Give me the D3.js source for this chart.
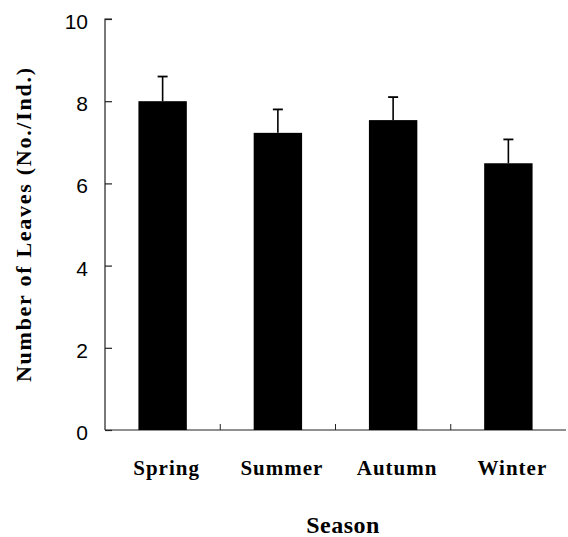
<!DOCTYPE html>
<html>
<head>
<meta charset="utf-8">
<script src="https://cdn.jsdelivr.net/npm/d3@7"></script>
<style>
  body { margin: 0; background: #fff; }
  svg { display: block; }
</style>
</head>
<body>
<svg width="568" height="537"></svg>
<script>
// seasons and mean leaf counts, with the top of each error bar
var seasons = ["Spring", "Summer", "Autumn", "Winter"];
var means = [8.0, 7.23, 7.54, 6.49];
var upper = [8.6, 7.8, 8.1, 7.07];
var yTicks = [0, 2, 4, 6, 8, 10];

var svg = d3.select("svg");

var x = d3.scaleBand()
  .domain(seasons)
  .range([105, 566])
  .paddingInner(0.58)
  .paddingOuter(0.29);

var y = d3.scaleLinear()
  .domain([0, 10])
  .range([430, 19]);

// y axis, ticks pointing inward
var yAxis = svg.append("g")
  .attr("transform", "translate(105,0)")
  .call(d3.axisRight(y).tickValues(yTicks).tickSize(7).tickFormat(""));
yAxis.select(".domain").attr("d", "M7,19H0V430");
yAxis.selectAll("line, path").attr("stroke", "#222").attr("stroke-width", 1.2);

svg.selectAll("text.ytick")
  .data(yTicks)
  .enter()
  .append("text")
  .attr("class", "ytick")
  .attr("x", 88)
  .attr("y", (d) => y(d) + 10)
  .attr("text-anchor", "end")
  .style("font-family", "Liberation Sans, Arial, sans-serif")
  .style("font-size", "21px")
  .text((d) => d);

// x axis line with small separators between seasons
svg.append("line")
  .attr("x1", 105).attr("x2", 566)
  .attr("y1", y(0)).attr("y2", y(0))
  .attr("stroke", "#222").attr("stroke-width", 1.2);

var step = x.step();
svg.selectAll("line.sep")
  .data(seasons.slice(1))
  .enter()
  .append("line")
  .attr("class", "sep")
  .attr("x1", (d) => x(d) - (step - x.bandwidth()) / 2)
  .attr("x2", (d) => x(d) - (step - x.bandwidth()) / 2)
  .attr("y1", y(0)).attr("y2", y(0) - 6)
  .attr("stroke", "#222").attr("stroke-width", 1);

// error bars (drawn first so the bar covers the stem)
var cap = 5;
seasons.forEach(function (s, i) {
  var cx = x(s) + x.bandwidth() / 2;
  svg.append("line")
    .attr("x1", cx).attr("x2", cx)
    .attr("y1", y(means[i])).attr("y2", y(upper[i]))
    .attr("stroke", "#000").attr("stroke-width", 1.6);
  svg.append("line")
    .attr("x1", cx - cap).attr("x2", cx + cap)
    .attr("y1", y(upper[i])).attr("y2", y(upper[i]))
    .attr("stroke", "#000").attr("stroke-width", 1.8);
});

svg.selectAll("rect.bar")
  .data(means)
  .enter()
  .append("rect")
  .attr("class", "bar")
  .attr("x", (d, i) => x(seasons[i]))
  .attr("y", (d) => y(d))
  .attr("width", x.bandwidth())
  .attr("height", (d) => y(0) - y(d))
  .attr("fill", "#000");

// category labels
svg.selectAll("text.xlab")
  .data(seasons)
  .enter()
  .append("text")
  .attr("class", "xlab")
  .attr("x", (d) => x(d) + x.bandwidth() / 2 + 4)
  .attr("y", 475)
  .attr("text-anchor", "middle")
  .style("font-family", "Liberation Serif, Times New Roman, serif")
  .style("font-weight", "bold")
  .style("font-size", "21px")
  .style("letter-spacing", "1px")
  .text((d) => d);

svg.append("text")
  .attr("x", 343)
  .attr("y", 533)
  .attr("text-anchor", "middle")
  .style("font-family", "Liberation Serif, Times New Roman, serif")
  .style("font-weight", "bold")
  .style("font-size", "24px")
  .style("letter-spacing", "0.5px")
  .text("Season");

svg.append("text")
  .attr("transform", "translate(31,225) rotate(-90)")
  .attr("text-anchor", "middle")
  .attr("textLength", 314)
  .attr("lengthAdjust", "spacing")
  .style("font-family", "Liberation Serif, Times New Roman, serif")
  .style("font-weight", "bold")
  .style("font-size", "22px")
  .text("Number of Leaves (No./Ind.)");
</script>
</body>
</html>
